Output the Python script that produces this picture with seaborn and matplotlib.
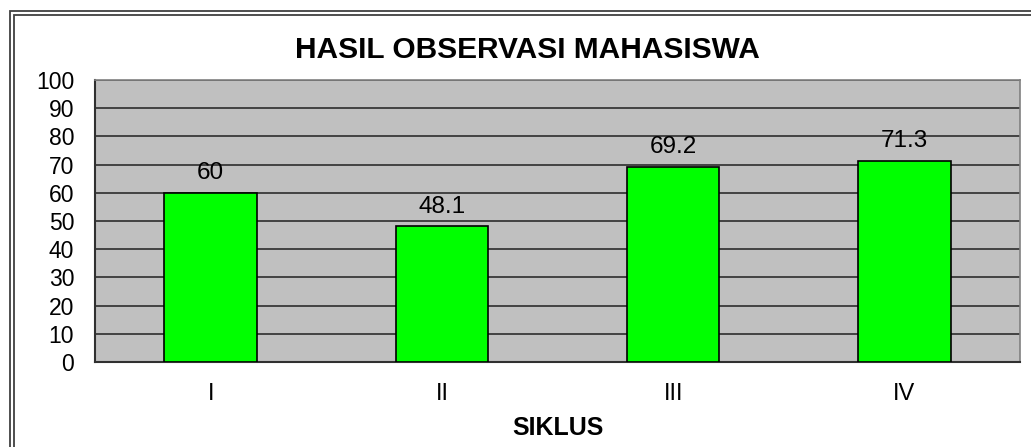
import matplotlib
matplotlib.use('Agg')
import matplotlib.pyplot as plt
from matplotlib.patches import Rectangle
import seaborn as sns
import pandas as pd

siklus = ['I', 'II', 'III', 'IV']
nilai = [60, 48.1, 69.2, 71.3]
label_nilai = ['60', '48.1', '69.2', '71.3']
y_ticks = list(range(0, 101, 10))

df = pd.DataFrame({'siklus': siklus, 'nilai': nilai})

sns.set_style('white')
plt.rcParams['font.family'] = ['Liberation Sans', 'DejaVu Sans']
plt.rcParams['text.color'] = 'black'
plt.rcParams['xtick.color'] = 'black'
plt.rcParams['ytick.color'] = 'black'
plt.rcParams['axes.labelcolor'] = 'black'

fig = plt.figure(figsize=(10.31, 4.47), dpi=100)
ax = fig.add_axes([95/1031, 1-362/447, 925/1031, 282/447])
ax.set_facecolor('#c0c0c0')

sns.barplot(data=df, x='siklus', y='nilai', color='#00ff00', width=0.4,
            edgecolor='black', linewidth=1.2, saturation=1, ax=ax, zorder=3)

ax.set_ylim(0, 100)
ax.set_xlim(-0.5, 3.5)
ax.set_yticks(y_ticks)
ax.yaxis.grid(True, color='#202020', linewidth=1.1, zorder=1)
ax.set_axisbelow(True)
ax.tick_params(axis='y', length=0, labelsize=16.5, pad=15)
ax.tick_params(axis='x', length=0, labelsize=17, pad=15)
ax.set_xticks([0.5, 1.5, 2.5], minor=True)
ax.tick_params(axis='x', which='minor', length=5, width=1, color='#404040', direction='out')

for i, v in enumerate(nilai):
    ax.text(i, v + 3, label_nilai[i], ha='center', va='bottom', fontsize=17.5)

for s in ['left', 'bottom']:
    ax.spines[s].set_color('#303030')
    ax.spines[s].set_linewidth(1.5)
for s in ['top', 'right']:
    ax.spines[s].set_color('#808080')
    ax.spines[s].set_linewidth(1.2)

ax.set_ylabel('')
ax.set_xlabel('SIKLUS', fontsize=18, fontweight='bold', labelpad=8)
fig.text(527/1031, 1-50/447, 'HASIL OBSERVASI MAHASISWA', ha='center', va='center',
         fontsize=21.5, fontweight='bold')

# double frame of the chart area, cut off at right and bottom
fig.patches.append(Rectangle((9.5/1031, -0.1), 1.2, 1.1 - 11.5/447, transform=fig.transFigure,
                             fill=False, edgecolor='#404040', linewidth=1.3))
fig.patches.append(Rectangle((13.5/1031, -0.1), 1.2, 1.1 - 15/447, transform=fig.transFigure,
                             fill=False, edgecolor='#404040', linewidth=1.3))

fig.savefig('out.png', dpi=100, facecolor='white')
